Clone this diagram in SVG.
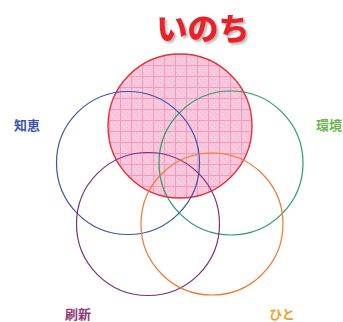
<svg xmlns="http://www.w3.org/2000/svg" width="343" height="322" viewBox="0 0 343 322">
<defs>
<pattern id="grid" x="0" y="0" width="11" height="11" patternUnits="userSpaceOnUse">
<rect width="11" height="11" fill="#f8c8dc"/>
<rect x="0" y="0" width="1" height="1" fill="#f4b6cf"/>
<rect x="2" y="2" width="1" height="1" fill="#f4b6cf"/>
<rect x="4" y="4" width="1" height="1" fill="#f4b6cf"/>
<rect x="6" y="6" width="1" height="1" fill="#f4b6cf"/>
<rect x="8" y="8" width="1" height="1" fill="#f4b6cf"/>
<rect x="4" y="0" width="1" height="1" fill="#f4b6cf"/>
<rect x="8" y="4" width="1" height="1" fill="#f4b6cf"/>
<rect x="0" y="6" width="1" height="1" fill="#f4b6cf"/>
<rect x="6" y="2" width="1" height="1" fill="#f4b6cf"/>
<rect x="2" y="8" width="1" height="1" fill="#f4b6cf"/>
<rect x="10" y="0" width="1" height="11" fill="#f09cc0"/>
<rect x="0" y="10" width="11" height="1" fill="#f09cc0"/>
</pattern>
<filter id="sh" x="-10%" y="-10%" width="130%" height="140%">
<feDropShadow dx="2" dy="2" stdDeviation="1" flood-color="#999" flood-opacity="0.7"/>
</filter>
</defs>
<style>
.c{fill:none;stroke-width:1.2}
.lbl{font-family:"Noto Sans CJK JP","Noto Sans CJK SC",sans-serif;font-weight:bold;font-size:13px}
</style>
<rect width="343" height="322" fill="#ffffff"/>
<g id="title"><text x="203" y="40" text-anchor="middle" font-family="Noto Sans CJK JP, sans-serif" font-weight="900" font-size="31" fill="#e8242a" filter="url(#sh)">いのち</text></g>
<g id="inochi"><circle cx="180" cy="126" r="72" fill="url(#grid)" stroke="#e8303a" stroke-width="1.4"/></g>
<g id="chie"><circle class="c" cx="128" cy="163" r="71.5" stroke="#3a55a8"/><text class="lbl" x="27" y="130" text-anchor="middle" fill="#3a55a8">知恵</text></g>
<g id="kankyo"><circle class="c" cx="231" cy="163" r="72" stroke="#2e9a6a"/><text class="lbl" x="316" y="130" fill="#6cb44a">環境</text></g>
<g id="sasshin"><circle class="c" cx="148" cy="224" r="71.5" stroke="#7d2e80"/><text class="lbl" x="78" y="319" text-anchor="middle" fill="#8e3a72">刷新</text></g>
<g id="hito"><circle class="c" cx="212" cy="224" r="71" stroke="#f07830"/><text class="lbl" x="282" y="319" text-anchor="middle" fill="#f0a020">ひと</text></g>
</svg>
